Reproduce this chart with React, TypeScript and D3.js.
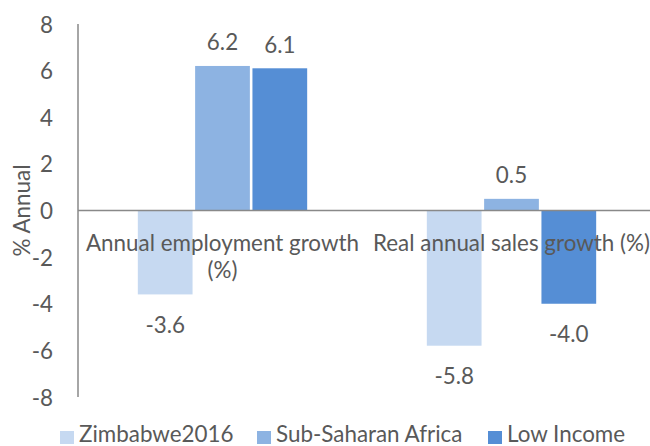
import React from "react";
import * as d3 from "d3";

const categories = ["Annual employment growth (%)", "Real annual sales growth (%)"];
const categoryLines = [["Annual employment growth", "(%)"], ["Real annual sales growth (%)"]];
const seriesNames = ["Zimbabwe2016", "Sub-Saharan Africa", "Low Income"];
const seriesColors = ["#C6D9F1", "#8DB3E2", "#558ED5"];
const zimbabwe = [-3.6, -5.8];
const subSaharan = [6.2, 0.5];
const lowIncome = [6.1, -4.0];
const yTicks = [-8, -6, -4, -2, 0, 2, 4, 6, 8];

const W = 650;
const H = 446;
const FONT = "Lato, 'Open Sans', sans-serif";
const TXT = "#595959";

export default function App() {
  const values = [zimbabwe, subSaharan, lowIncome];
  const y = d3.scaleLinear().domain([-8, 8]).range([397, 24]);
  const x0 = d3.scaleBand<string>().domain(categories).range([78, 656]).paddingInner(0.414).paddingOuter(0.207);
  const x1 = d3.scaleBand<string>().domain(seriesNames).range([0, x0.bandwidth()]).paddingInner(0.045);
  const fs = 22.4;
  return (
    <svg width={W} height={H} style={{ position: "absolute", left: 0, top: 0, display: "block" }}>
      <rect x={0} y={0} width={W} height={H} fill="#fff" />
      {yTicks.map((t) => (
        <text key={t} x={53} y={y(t)} textAnchor="end" dominantBaseline="central" fontFamily={FONT} fontSize={fs} fill={TXT}>
          {t}
        </text>
      ))}
      <text transform={`translate(21,${y(0)}) rotate(-90)`} textAnchor="middle" dominantBaseline="central" fontFamily={FONT} fontSize={fs} fill={TXT}>
        % Annual
      </text>
      {categories.map((c, ci) => (
        <g key={c} transform={`translate(${x0(c)},0)`}>
          {seriesNames.map((s, si) => {
            const v = values[si][ci];
            const top = y(Math.max(0, v));
            const bot = y(Math.min(0, v));
            return <rect key={s} x={x1(s)} y={top} width={x1.bandwidth()} height={bot - top} fill={seriesColors[si]} />;
          })}
        </g>
      ))}
      <line x1={78} x2={78} y1={y(8)} y2={y(-8)} stroke="#898989" strokeWidth={1.5} />
      <line x1={78} x2={W} y1={y(0)} y2={y(0)} stroke="#898989" strokeWidth={1.5} />
      {categories.map((c, ci) => (
        <text key={c} textAnchor="middle" fontFamily={FONT} fontSize={fs} fill={TXT}>
          {categoryLines[ci].map((ln, li) => (
            <tspan key={li} x={(x0(c) as number) + x0.bandwidth() / 2} y={251 + li * 27}>
              {ln}
            </tspan>
          ))}
        </text>
      ))}
      {categories.map((c, ci) =>
        seriesNames.map((s, si) => {
          const v = values[si][ci];
          const cx = (x0(c) as number) + (x1(s) as number) + x1.bandwidth() / 2;
          const cy = v >= 0 ? y(v) - 24 : y(v) + 30;
          return (
            <text key={c + s} x={cx} y={cy} textAnchor="middle" dominantBaseline="central" fontFamily={FONT} fontSize={fs} fill={TXT}>
              {v.toFixed(1)}
            </text>
          );
        })
      )}
      {seriesNames.map((s, si) => {
        const lx = [60, 257, 488][si];
        return (
          <g key={s}>
            <rect x={lx} y={431} width={14} height={13} fill={seriesColors[si]} />
            <text x={lx + 19} y={441.5} fontFamily={FONT} fontSize={fs} fill={TXT}>
              {s}
            </text>
          </g>
        );
      })}
    </svg>
  );
}
